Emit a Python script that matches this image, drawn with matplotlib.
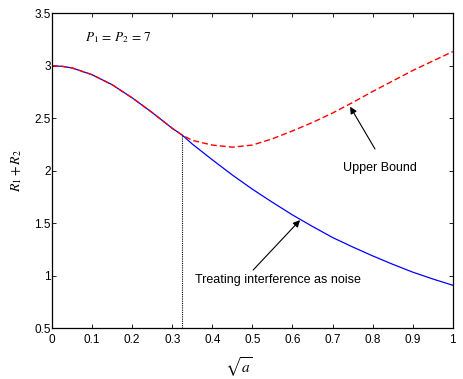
import matplotlib
matplotlib.use("Agg")
import matplotlib.pyplot as plt

# values
sqrt_a = [0.0, 0.025, 0.05, 0.1, 0.15, 0.2, 0.25, 0.3, 0.325, 0.35, 0.4, 0.45, 0.5,
          0.55, 0.6, 0.65, 0.7, 0.75, 0.8, 0.85, 0.9, 0.95, 1.0]
tin_rate = [3.00, 2.995, 2.98, 2.915, 2.82, 2.695, 2.555, 2.405, 2.34, 2.255, 2.105, 1.96, 1.825,
            1.70, 1.58, 1.47, 1.365, 1.275, 1.19, 1.11, 1.035, 0.97, 0.91]
upper_bound = [3.00, 2.995, 2.98, 2.915, 2.82, 2.695, 2.555, 2.405, 2.34, 2.29, 2.245, 2.225, 2.245,
               2.305, 2.38, 2.46, 2.55, 2.65, 2.755, 2.855, 2.955, 3.045, 3.135]
switch_x = 0.325
switch_y = 2.34

plt.rcParams["font.family"] = ["Liberation Sans", "DejaVu Sans"]
plt.rcParams["mathtext.fontset"] = "stix"

fig = plt.figure(figsize=(4.63, 3.79), dpi=100)
ax = fig.add_axes([0.1123, 0.1338, 0.8655, 0.8311])

ax.plot(sqrt_a, tin_rate, color="blue", lw=0.9)
ax.plot(sqrt_a, upper_bound, color="red", lw=1.0, linestyle=(0, (4.3, 2.2)))
ax.plot([switch_x, switch_x], [0.5, switch_y], color="black", lw=0.8, linestyle=(0, (1, 1)))

ax.set_xlim(0, 1)
ax.set_ylim(0.5, 3.5)
ax.set_xticks([i / 10 for i in range(11)])
ax.set_xticklabels(["0", "0.1", "0.2", "0.3", "0.4", "0.5", "0.6", "0.7", "0.8", "0.9", "1"])
ax.set_yticks([0.5, 1, 1.5, 2, 2.5, 3, 3.5])
ax.set_yticklabels(["0.5", "1", "1.5", "2", "2.5", "3", "3.5"])
ax.tick_params(direction="in", length=3, width=0.6, top=True, right=True, labelsize=8.5)
ax.tick_params(axis="x", pad=4)
ax.tick_params(axis="y", pad=1)
for sp in ax.spines.values():
    sp.set_linewidth(0.9)

ax.set_xlabel(r"$\sqrt{a}$", fontsize=11)
ax.xaxis.set_label_coords(0.465, -0.085)
ax.set_ylabel(r"$R_1 + R_2$", fontsize=10)
ax.yaxis.set_label_coords(-0.07, 0.5)

ax.text(0.082, 3.265, r"$P_1\,=\,P_2\,=\,7$", fontsize=9.5, va="center", ha="left")

arrow = dict(arrowstyle="-|>", color="black", lw=0.8, mutation_scale=10, shrinkA=0, shrinkB=0)
ax.annotate("", xy=(0.744, 2.61), xytext=(0.806, 2.208), arrowprops=arrow)
ax.text(0.819, 2.027, "Upper Bound", fontsize=9, ha="center", va="center")
ax.annotate("", xy=(0.619, 1.53), xytext=(0.502, 1.055), arrowprops=arrow)
ax.text(0.565, 0.96, "Treating interference as noise", fontsize=9, ha="center", va="center")

fig.savefig("out.png", dpi=100)
